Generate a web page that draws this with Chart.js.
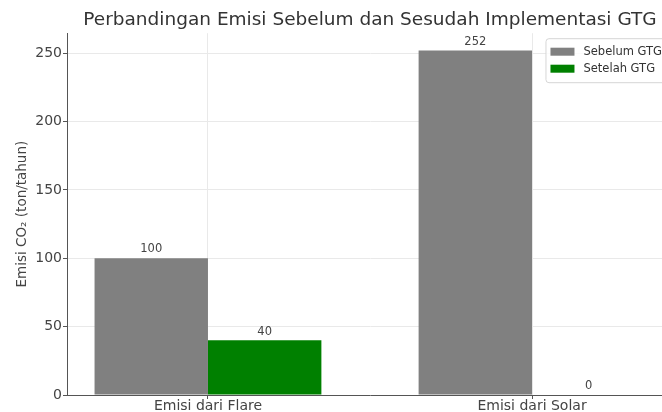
<!DOCTYPE html>
<html>
<head>
<meta charset="utf-8">
<script src="https://cdn.jsdelivr.net/npm/chart.js@4.4.0/dist/chart.umd.min.js"></script>
<style>
  html, body { margin: 0; padding: 0; background: #fff; overflow: hidden; }
  #wrap { position: relative; width: 680px; height: 412px; }
</style>
</head>
<body>
<div id="wrap"><canvas id="chart" width="680" height="412"></canvas></div>
<script>
// Daten
const categories = ['Emisi dari Flare', 'Emisi dari Solar'];
const seriesNames = ['Sebelum GTG', 'Setelah GTG'];
const sebelumGTG = [100, 252];
const setelahGTG = [40, 0];
const yTicks = [0, 50, 100, 150, 200, 250];
const seriesColors = ['#808080', '#008000'];

const FONT = 'DejaVu Sans';
Chart.defaults.font.family = FONT;

// Wert über jeden Balken schreiben
const valueLabels = {
  id: 'valueLabels',
  afterDatasetsDraw(chart) {
    const ctx = chart.ctx;
    ctx.save();
    ctx.font = '11.5px "' + FONT + '"';
    ctx.fillStyle = '#444';
    ctx.textAlign = 'center';
    ctx.textBaseline = 'bottom';
    chart.data.datasets.forEach((ds, di) => {
      chart.getDatasetMeta(di).data.forEach((bar, i) => {
        ctx.fillText(String(ds.data[i].y), bar.x, bar.y - 3);
      });
    });
    ctx.restore();
  }
};

// Legende oben rechts innerhalb der Zeichenfläche
const cornerLegend = {
  id: 'cornerLegend',
  afterDraw(chart) {
    const ctx = chart.ctx;
    const area = chart.chartArea;
    const fs = 11.5;
    ctx.save();
    ctx.font = fs + 'px "' + FONT + '"';
    const textW = Math.max(...chart.data.datasets.map(ds => ctx.measureText(ds.label).width));
    const pad = 5, swW = 24, swH = 8, gap = 9, rowH = 17;
    const w = pad + swW + gap + textW + pad;
    const h = pad * 2 + rowH * chart.data.datasets.length;
    const right = area.right - 6;
    const top = area.top + 5;
    const left = right - w;
    ctx.fillStyle = 'rgba(255,255,255,0.8)';
    ctx.strokeStyle = '#d6d6d6';
    ctx.lineWidth = 1;
    ctx.beginPath();
    ctx.roundRect(left + 0.5, top + 0.5, w, h, 3);
    ctx.fill();
    ctx.stroke();
    chart.data.datasets.forEach((ds, i) => {
      const cy = top + pad + rowH * i + rowH / 2;
      ctx.fillStyle = ds.backgroundColor;
      ctx.fillRect(left + pad, cy - swH / 2, swW, swH);
      ctx.fillStyle = '#333';
      ctx.textAlign = 'left';
      ctx.textBaseline = 'middle';
      ctx.fillText(ds.label, left + pad + swW + gap, cy);
    });
    ctx.restore();
  }
};

const datasets = [sebelumGTG, setelahGTG].map((values, s) => ({
  label: seriesNames[s],
  data: values.map((v, i) => ({ x: i, y: v })),
  backgroundColor: seriesColors[s],
  borderWidth: 0,
  categoryPercentage: 0.7,
  barPercentage: 1.0
}));

new Chart(document.getElementById('chart'), {
  type: 'bar',
  data: { datasets },
  plugins: [valueLabels, cornerLegend],
  options: {
    responsive: false,
    animation: false,
    devicePixelRatio: 1,
    layout: { padding: { left: 0, right: 7, top: 0, bottom: 0 } },
    plugins: {
      legend: { display: false },
      tooltip: { enabled: false },
      title: {
        display: true,
        fullSize: false,
        text: 'Perbandingan Emisi Sebelum dan Sesudah Implementasi GTG',
        color: '#333',
        font: { family: FONT, size: 18.5, weight: 'normal' },
        padding: { top: 9, bottom: 2 }
      }
    },
    scales: {
      x: {
        type: 'linear',
        min: -0.435,
        max: 1.435,
        offset: false,
        afterBuildTicks: scale => { scale.ticks = categories.map((c, i) => ({ value: i })); },
        afterFit: scale => { scale.height = 17; },
        ticks: {
          callback: v => categories[v],
          color: '#444',
          font: { size: 14 },
          padding: -1,
          maxRotation: 0,
          autoSkip: false
        },
        grid: { offset: false, color: '#e9e9e9', tickColor: '#555', tickLength: 4 },
        border: { color: '#555', width: 1 }
      },
      y: {
        min: 0,
        max: 264.6,
        afterBuildTicks: scale => { scale.ticks = yTicks.map(v => ({ value: v })); },
        afterFit: scale => { scale.width = 67; },
        ticks: { color: '#444', font: { size: 14 }, padding: 1 },
        grid: { color: '#e9e9e9', tickColor: '#555', tickLength: 4 },
        border: { color: '#555', width: 1 },
        title: {
          display: true,
          text: 'Emisi CO\u2082 (ton/tahun)',
          color: '#444',
          font: { size: 13.5 },
          padding: { top: 14, bottom: 0 }
        }
      }
    }
  }
});
</script>
</body>
</html>
